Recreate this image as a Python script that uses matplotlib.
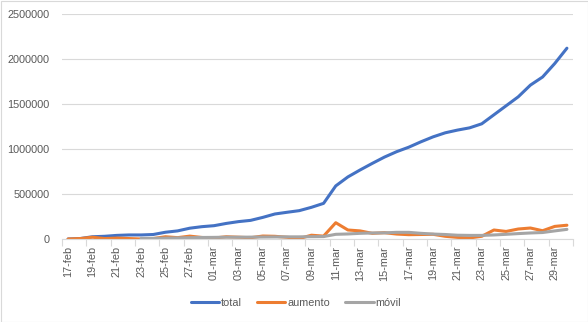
import matplotlib.pyplot as plt
from matplotlib.patches import Rectangle
from matplotlib.ticker import FixedLocator, NullLocator


fechas = (
    [f"{d:02d}-feb" for d in range(17, 29)]
    + [f"{d:02d}-mar" for d in range(1, 31)]
)

total = [
    0, 5000, 25000, 30000, 40000, 45000, 45000, 50000, 75000, 90000,
    120000, 137000, 148000, 173000, 193000, 207000, 240000, 278000, 297000, 315000,
    352000, 396000, 590000, 690000, 767000, 840000, 910000, 970000, 1020000, 1080000,
    1135000, 1180000, 1210000, 1235000, 1280000, 1380000, 1480000, 1580000, 1710000, 1800000,
    1950000, 2120000,
]

aumento = [
    0, 5000, 20000, 5000, 10000, 5000, 0, 5000, 25000, 15000,
    32000, 17000, 11000, 25000, 20000, 14000, 33000, 30000, 19000, 5000,
    42000, 32000, 181000, 100000, 90000, 63000, 70000, 55000, 48000, 50000,
    52000, 30000, 18000, 12000, 30000, 100000, 84000, 111000, 122000, 92000,
    140000, 153000,
]

# 7-day moving average, undefined for the first six days
movil = [
    None, None, None, None, None, None, 6000, 7000, 10000, 12000,
    15000, 17000, 18000, 20000, 20000, 21000, 22000, 23000, 24000, 24000,
    26000, 27000, 52000, 56000, 63000, 67000, 68000, 74000, 74000, 63000,
    55000, 50000, 42000, 40000, 40000, 45000, 52000, 60000, 67000, 72000,
    90000, 107000,
]

series = [
    ("total", total, "#4472C4"),
    ("aumento", aumento, "#ED7D31"),
    ("móvil", movil, "#A5A5A5"),
]

plt.rcParams["font.family"] = ["Liberation Sans", "DejaVu Sans"]

W, H = 588, 322
fig = plt.figure(figsize=(W / 100, H / 100), dpi=100)
fig.patches.append(
    Rectangle((0.5 / W, 0.5 / H), 1 - 1 / W, 1 - 1 / H, transform=fig.transFigure,
              fill=False, edgecolor="#D9D9D9", linewidth=0.8)
)

ax = fig.add_axes([62 / W, (H - 239) / H, 511 / W, 225 / H])

x = list(range(len(fechas)))
for name, values, color in series:
    xs = [i for i, v in zip(x, values) if v is not None]
    ys = [v for v in values if v is not None]
    ax.plot(xs, ys, color=color, linewidth=2.2, label=name,
            solid_capstyle="round", solid_joinstyle="round")

ax.set_xlim(-0.5, len(fechas) - 0.5)
ax.set_ylim(0, 2500000)
ax.set_yticks(range(0, 2500001, 500000))
ax.set_yticklabels([str(v) for v in range(0, 2500001, 500000)])
ax.grid(axis="y", color="#D9D9D9", linewidth=0.8)
ax.set_axisbelow(True)

# labels on every second day, tick marks on category boundaries
ax.xaxis.set_major_locator(FixedLocator(x[::2]))
ax.set_xticklabels(fechas[::2], rotation=90)
ax.xaxis.set_minor_locator(FixedLocator([i - 0.5 for i in range(0, len(fechas) + 1, 2)]))
ax.tick_params(axis="x", which="major", length=0, pad=5, labelsize=7.8, labelcolor="#595959")
ax.tick_params(axis="x", which="minor", length=5, color="#D9D9D9", width=0.8)
ax.tick_params(axis="y", length=0, pad=9, labelsize=7.8, labelcolor="#595959")

for side in ("top", "right", "left"):
    ax.spines[side].set_visible(False)
ax.spines["bottom"].set_color("#D9D9D9")
ax.spines["bottom"].set_linewidth(0.8)

fig.legend(loc="center", bbox_to_anchor=(296 / W, 1 - 303 / H), ncol=3, frameon=False,
           fontsize=7.8, labelcolor="#595959", handlelength=2.6, handletextpad=0.2,
           columnspacing=1.4)

fig.savefig("out.png", dpi=100)
